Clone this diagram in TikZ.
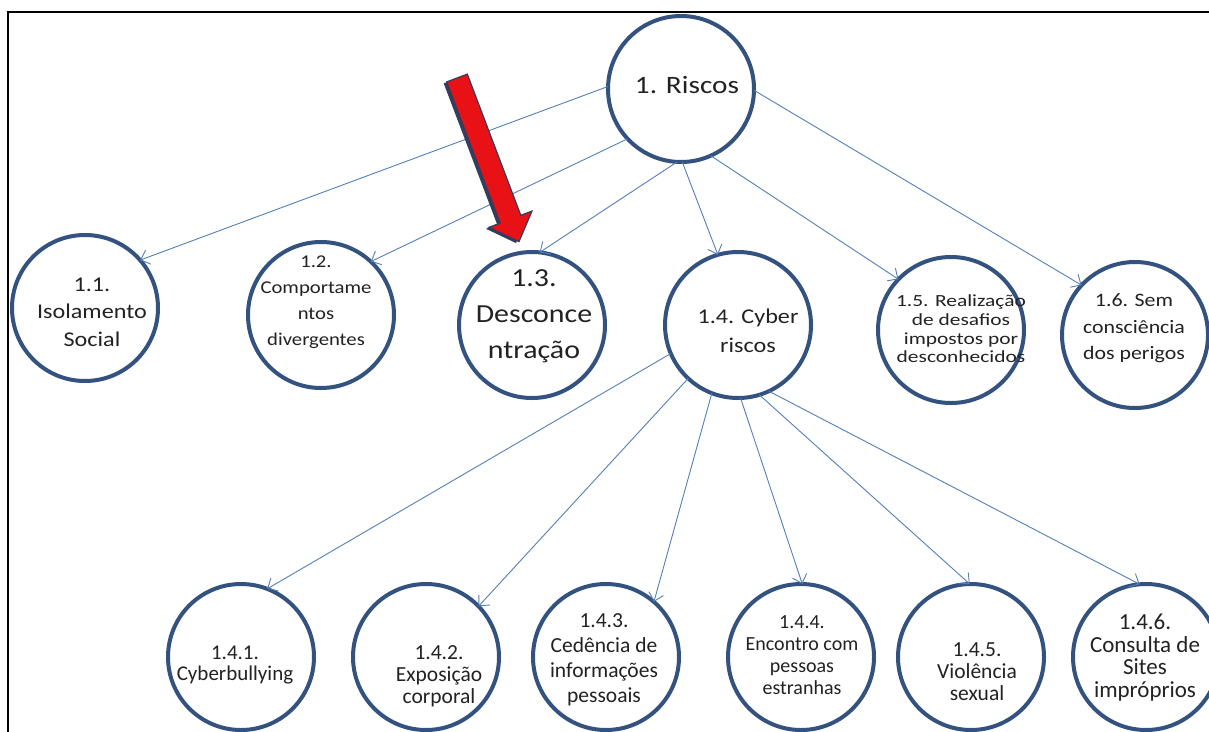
\documentclass[tikz,border=0pt]{standalone}
\usepackage{fontspec}
\setmainfont{Carlito}
\usetikzlibrary{arrows.meta}

\definecolor{ringblue}{RGB}{52,82,128}
\definecolor{linkblue}{RGB}{84,128,184}
\definecolor{inkgray}{RGB}{34,34,34}
\definecolor{alertred}{RGB}{232,18,22}
\definecolor{alertedge}{RGB}{50,62,92}

% multi-line label: size, line spacing, horizontal stretch, lines
\newcommand\lbl[4]{\scalebox{#3}[1]{\fontsize{#1}{#2}\selectfont\begin{tabular}{@{}c@{}}#4\end{tabular}}}

\tikzset{
  ring/.style={circle, draw=ringblue, line width=4pt, fill=white,
    minimum size=146pt, inner sep=0pt, outer sep=0pt},
  caption/.style={inner sep=0pt, text=inkgray},
  link/.style={draw=linkblue, line width=0.9pt,
    -{Straight Barb[length=8pt,width=15pt,line width=0.9pt]}},
}

\begin{document}
\begin{tikzpicture}[x=1pt,y=-1pt]
\useasboundingbox (0,0) rectangle (1209,731);
\clip (0,0) rectangle (1209,731);
\fill[white] (0,0) rectangle (1209,731);

% outer frame
\draw[black, line width=2.2pt] (8,12) rectangle (1260,790);

% circles
\node[ring] (c1)   at (681,89)  {};
\node[ring] (c11)  at (85,308)  {};
\node[ring] (c12)  at (321,315) {};
\node[ring] (c13)  at (532,325) {};
\node[ring] (c14)  at (738,325) {};
\node[ring] (c15)  at (951,330) {};
\node[ring] (c16)  at (1135,335) {};
\node[ring] (c141) at (241,657) {};
\node[ring] (c142) at (426,657) {};
\node[ring] (c143) at (606,657) {};
\node[ring] (c144) at (801,657) {};
\node[ring] (c145) at (971,657) {};
\node[ring] (c146) at (1146,657) {};

% connectors from the root
\draw[link] (c1.178) -- (c11.41);
\draw[link] (c1.223) -- (c12.47);
\draw[link] (c1.267) -- (c13.84);
\draw[link] (c1.271) -- (c14.106);
\draw[link] (c1.294) -- (c15.136);
\draw[link] (c1.359) -- (c16.137);

% connectors from 1.4
\draw[link] (c14.203) -- (c141.69);
\draw[link] (c14.227) -- (c142.44);
\draw[link] (c14.249) -- (c143.49);
\draw[link] (c14.272) -- (c144.89);
\draw[link] (c14.287) -- (c145.91);
\draw[link] (c14.295) -- (c146.95);

% red pointer with its dark shadow
\fill[alertedge] (443.7,83.4) -- (464.3,75.6) -- (517.8,216.8) -- (529.0,212.6)
  -- (516,243.1) -- (486.0,228.8) -- (497.2,224.6) -- cycle;
\filldraw[fill=alertred, draw=alertedge, line width=1.2pt]
  (446.7,81.9) -- (467.3,74.1) -- (520.8,215.3) -- (532.0,211.1)
  -- (519,241.6) -- (489.0,227.3) -- (500.2,223.1) -- cycle;

% labels
\node[caption] (t1)   at (687,87)  {\lbl{25}{30}{1.17}{1. Riscos}};
\node[caption] (t11)  at (92,313)  {\lbl{21}{27.5}{1.15}{1.1.\\Isolamento\\Social}};
\node[caption] (t12)  at (316,301) {\lbl{18}{26}{1.15}{1.2.\\Comportame\\ntos\\divergentes}};
\node[caption] (t13)  at (534,315) {\lbl{26}{36}{1.15}{1.3.\\Desconce\\ntração}};
\node[caption] (t14)  at (748,332) {\lbl{21}{29}{1.15}{1.4. Cyber\\riscos}};
\node[caption] (t15)  at (961,331) {\lbl{17}{18.7}{1.26}{1.5. Realização\\de desafios\\impostos por\\desconhecidos}};
\node[caption] (t16)  at (1134,328) {\lbl{19}{26.5}{1.15}{1.6. Sem\\consciência\\dos perigos}};
\node[caption] (t141) at (235,666) {\lbl{21}{19.5}{1.0}{1.4.1.\\Cyberbullying}};
\node[caption] (t142) at (439,677) {\lbl{21.5}{22}{1.0}{1.4.2.\\Exposição\\corporal}};
\node[caption] (t143) at (604,660) {\lbl{21.5}{24.7}{1.0}{1.4.3.\\Cedência de\\informações\\pessoais}};
\node[caption] (t144) at (802,657) {\lbl{20}{22.3}{1.0}{1.4.4.\\Encontro com\\pessoas\\estranhas}};
\node[caption] (t145) at (977,674) {\lbl{21.5}{22}{1.0}{1.4.5.\\Violência\\sexual}};
\node[caption] (t146) at (1145,659) {\lbl{23}{22.5}{1.0}{1.4.6.\\Consulta de\\Sites\\impróprios}};
\end{tikzpicture}
\end{document}
